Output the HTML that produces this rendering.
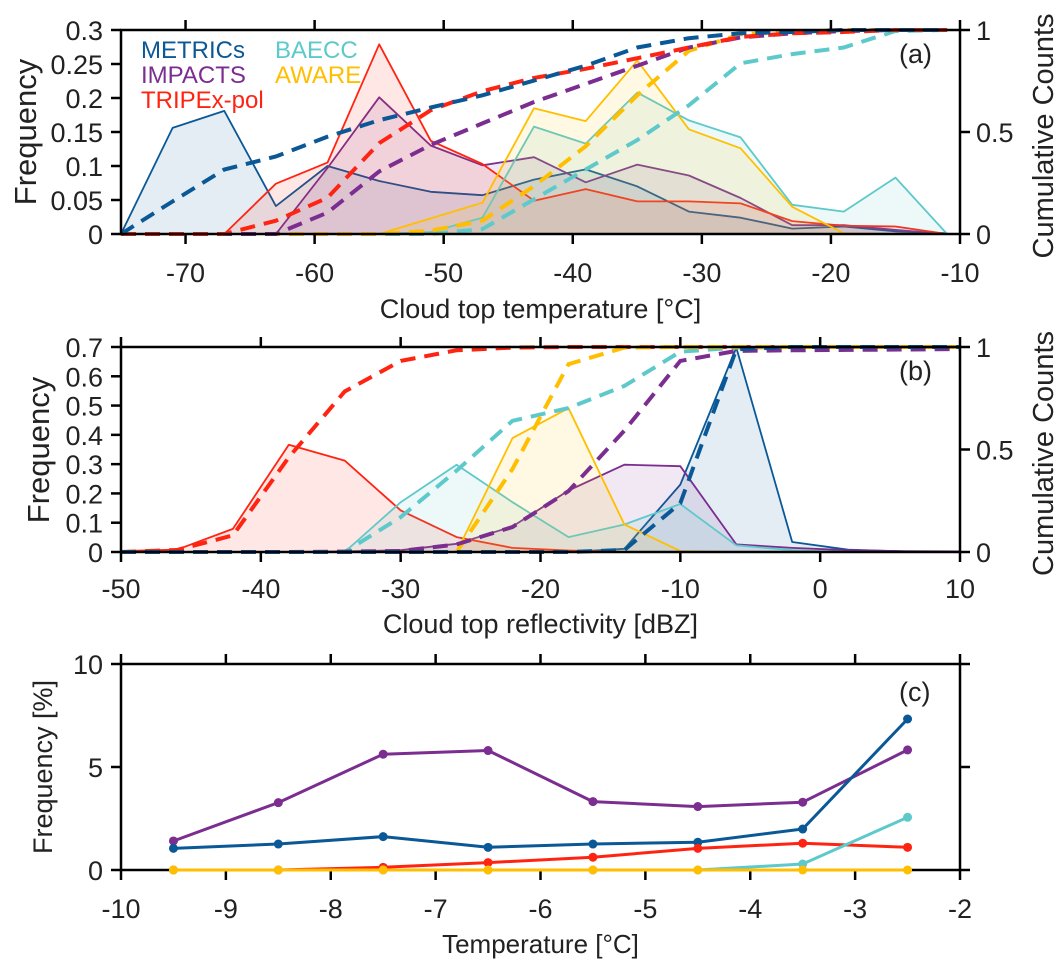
<!DOCTYPE html>
<html><head><meta charset="utf-8"><style>
html,body{margin:0;padding:0;background:#fff;}
svg{display:block;font-family:"Liberation Sans",Arial,sans-serif;}
</style></head><body>
<svg id="fig" width="1063" height="970" viewBox="0 0 1063 970" xmlns="http://www.w3.org/2000/svg"></svg>
<script>
// ---------- data ----------
const seriesNames = ["METRICs","IMPACTS","TRIPEx-pol","BAECC","AWARE"];
const seriesColors = ["#0b5896","#7b2d90","#ff2412","#5ec9cb","#ffbf00"];

const aX = [-75,-71,-67,-63,-59,-55,-51,-47,-43,-39,-35,-31,-27,-23,-19,-15,-11];
const aFreqMETRICs = [0,0.156,0.181,0.041,0.1,0.078,0.062,0.057,0.08,0.095,0.070,0.033,0.024,0.008,0.011,0.004,0.001];
const aFreqIMPACTS = [0,0,0,0,0.097,0.201,0.130,0.101,0.113,0.076,0.102,0.086,0.053,0.013,0.013,0.006,0];
const aFreqTRIPEx = [0,0,0,0.074,0.105,0.279,0.137,0.103,0.049,0.066,0.048,0.048,0.045,0.019,0.012,0.011,0];
const aFreqBAECC = [0,0,0,0,0,0,0.003,0.024,0.158,0.133,0.208,0.167,0.142,0.043,0.033,0.083,0];
const aFreqAWARE = [0,0,0,0,0,0,0.023,0.046,0.185,0.166,0.255,0.154,0.126,0.040,0.001,0,0];
const aCumMETRICs = [0,0.16,0.316,0.38,0.477,0.558,0.62,0.68,0.752,0.825,0.914,0.96,0.984,0.99,1,1,1];
const aCumIMPACTS = [0,0,0,0,0.105,0.307,0.437,0.542,0.647,0.736,0.825,0.914,0.963,0.984,0.995,1,1];
const aCumTRIPEx = [0,0,0,0.065,0.178,0.445,0.607,0.70,0.765,0.81,0.862,0.914,0.966,0.984,0.99,1,1];
const aCumBAECC = [0,0,0,0,0,0,0,0.024,0.17,0.316,0.461,0.631,0.837,0.882,0.914,0.995,1];
const aCumAWARE = [0,0,0,0,0,0,0.016,0.065,0.235,0.43,0.68,0.898,0.979,0.99,1,1,1];
const aXTicks = [-70,-60,-50,-40,-30,-20,-10];
const aYTicks = [0,0.05,0.1,0.15,0.2,0.25,0.3];
const aYTickLabels = ["0","0.05","0.1","0.15","0.2","0.25","0.3"];

const bX = [-50,-46,-42,-38,-34,-30,-26,-22,-18,-14,-10,-6,-2,2,6,10];
const bFreqMETRICs = [0,0,0,0,0,0,0,0,0,0.011,0.23,0.698,0.034,0.008,0.002,0];
const bFreqIMPACTS = [0,0,0,0,0.002,0.006,0.028,0.087,0.21,0.298,0.293,0.026,0.014,0.006,0.003,0.002];
const bFreqTRIPEx = [0.003,0.008,0.079,0.366,0.312,0.142,0.051,0.014,0.005,0,0,0,0,0,0,0];
const bFreqBAECC = [0,0,0,0,0,0.17,0.298,0.17,0.051,0.094,0.164,0.023,0.006,0,0,0];
const bFreqAWARE = [0,0,0,0,0,0,0,0.389,0.491,0.094,0.003,0,0,0,0,0];
const bCumMETRICs = [0,0,0,0,0,0,0,0,0,0.01,0.238,0.989,1,1,1,1];
const bCumIMPACTS = [0,0,0,0,0.002,0.005,0.037,0.122,0.297,0.592,0.932,0.981,0.984,0.986,0.988,0.99];
const bCumTRIPEx = [0,0.01,0.081,0.462,0.783,0.932,0.984,0.997,1,1,1,1,1,1,1,1];
const bCumBAECC = [0,0,0,0,0,0.17,0.397,0.64,0.702,0.81,0.977,0.997,1,1,1,1];
const bCumAWARE = [0,0,0,0,0,0,0,0.405,0.916,0.997,1,1,1,1,1,1];
const bXTicks = [-50,-40,-30,-20,-10,0,10];
const bYTicks = [0,0.1,0.2,0.3,0.4,0.5,0.6,0.7];

const cX = [-9.5,-8.5,-7.5,-6.5,-5.5,-4.5,-3.5,-2.5];
const cMETRICs = [1.05,1.26,1.62,1.1,1.26,1.35,1.99,7.33];
const cIMPACTS = [1.41,3.27,5.62,5.8,3.32,3.08,3.29,5.83];
const cTRIPEx = [0,0,0.13,0.36,0.62,1.05,1.3,1.1];
const cBAECC = [0,0,0,0,0,0,0.29,2.56];
const cAWARE = [0,0,0,0,0,0,0,0];
const cXTicks = [-10,-9,-8,-7,-6,-5,-4,-3,-2];
const cYTicks = [0,5,10];
const rightTicks = [0,0.5,1];
const rightTickLabels = ["0","0.5","1"];

// ---------- helpers ----------
const NS = "http://www.w3.org/2000/svg";
const svg = document.getElementById("fig");
function mk(tag, attrs, parent){
  const e = document.createElementNS(NS, tag);
  for (const k in attrs) e.setAttribute(k, attrs[k]);
  (parent||svg).appendChild(e);
  return e;
}
function scale(d0,d1,r0,r1){ return v => r0 + (v-d0)/(d1-d0)*(r1-r0); }
const L = 121, R = 960;
const TF = 27;

function axesFrame(g, xs, ys, top, bot, xTicks, xLabels, yTicks, yLabels, opts){
  const ax = mk("g", {}, g);
  
  
  xTicks.forEach((t,i)=>{
    const x = xs(t);
    mk("line",{x1:x,x2:x,y1:bot,y2:bot+10,stroke:"#000","stroke-width":2.5},ax);
    mk("line",{x1:x,x2:x,y1:top,y2:top-10,stroke:"#000","stroke-width":2.5},ax);
    const tx = mk("text",{x:x,y:opts.xLabY,"text-anchor":"middle","font-size":TF,fill:"#222"},ax);
    tx.textContent = xLabels[i];
    
    
  });
  yTicks.forEach((t,i)=>{
    const y = ys(t);
    mk("line",{x1:L-10,x2:L,y1:y,y2:y,stroke:"#000","stroke-width":2.5},ax);
    if (opts.rightTicksSame) mk("line",{x1:R,x2:R+10,y1:y,y2:y,stroke:"#000","stroke-width":2.5},ax);
    const tx = mk("text",{x:103,y:y+10,"text-anchor":"end","font-size":TF,fill:"#222"},ax);
    tx.textContent = yLabels[i];
    
    
  });
  mk("rect",{x:L,y:top,width:R-L,height:bot-top,fill:"none",stroke:"#000","stroke-width":2.5},ax);
}

function rightAxis(g, top, bot, name){
  const ry = scale(0,1,bot,top);
  rightTicks.forEach((t,i)=>{
    const y = ry(t);
    mk("line",{x1:R,x2:R+10,y1:y,y2:y,stroke:"#000","stroke-width":2.5},g);
    const tx = mk("text",{x:976,y:y+10,"font-size":TF,fill:"#222"},g);
    tx.textContent = rightTickLabels[i];
    
    
  });
  const cy = (top+bot)/2 + 4;
  const t = mk("text",{x:1053,y:cy,"font-size":29,fill:"#222","text-anchor":"middle",transform:`rotate(-90 1053 ${cy})`},g);
  t.textContent = "Cumulative Counts";
  
  
  return ry;
}

function freqSeries(g, X, Y, xs, ys, color, name){
  const pts = X.map((x,i)=>xs(x).toFixed(1)+","+ys(Y[i]).toFixed(1));
  const area = mk("polygon",{points: xs(X[0])+","+ys(0)+" "+pts.join(" ")+" "+xs(X[X.length-1])+","+ys(0), fill:color,"fill-opacity":0.11,stroke:"none"},g);
  
  
  const ln = mk("polyline",{points:pts.join(" "),fill:"none",stroke:color,"stroke-width":1.8,"stroke-linejoin":"round"},g);
  
  
}
function cumSeries(g, X, Y, xs, ys, color, name){
  const pts = X.map((x,i)=>xs(x).toFixed(1)+","+ys(Y[i]).toFixed(1));
  const ln = mk("polyline",{points:pts.join(" "),fill:"none",stroke:color,"stroke-width":4,"stroke-dasharray":"15 9"},g);
  
  
}
function text(g, x, y, s, size, attrs, name){
  const t = mk("text", Object.assign({x:x,y:y,"font-size":size,fill:"#222"}, attrs||{}), g);
  t.textContent = s;
  
  
  return t;
}

// ---------- panel a ----------
(function(){
  const g = mk("g",{});
  
  
  const top = 30, bot = 234;
  const xs = scale(-75,-10,L,R), ys = scale(0,0.3,bot,top);
  const freqs = [aFreqMETRICs,aFreqIMPACTS,aFreqTRIPEx,aFreqBAECC,aFreqAWARE];
  const cums = [aCumMETRICs,aCumIMPACTS,aCumTRIPEx,aCumBAECC,aCumAWARE];
  freqs.forEach((f,i)=>freqSeries(g,aX,f,xs,ys,seriesColors[i],"a-"+seriesNames[i].toLowerCase()));
  const ry = scale(0,1,bot,top);
  [3,4,1,2,0].forEach(i=>cumSeries(g,aX,cums[i],xs,ry,seriesColors[i],"a-"+seriesNames[i].toLowerCase()));
  axesFrame(g,xs,ys,top,bot,aXTicks,aXTicks.map(String),aYTicks,aYTickLabels,{name:"panel-a",xLabY:282});
  rightAxis(g,top,bot,"panel-a");
  text(g,(L+R)/2,318,"Cloud top temperature [°C]",27,{"text-anchor":"middle"},"a-x-axis-title");
  text(g,36,132,"Frequency",31,{"text-anchor":"middle",transform:"rotate(-90 36 132)"},"a-y-axis-title");
  text(g,899,63,"(a)",27,{},"panel-a-label");
  const lg = mk("g",{},g);
  
  
  const lpos = [[141,58],[141,83],[141,108],[275,58],[275,83]];
  seriesNames.forEach((n,i)=>text(lg,lpos[i][0],lpos[i][1],n,24,{fill:seriesColors[i]},"legend-entry-"+n.toLowerCase()));
})();

// ---------- panel b ----------
(function(){
  const g = mk("g",{});
  
  
  const top = 347, bot = 552;
  const xs = scale(-50,10,L,R), ys = scale(0,0.7,bot,top);
  const freqs = [bFreqMETRICs,bFreqIMPACTS,bFreqTRIPEx,bFreqBAECC,bFreqAWARE];
  const cums = [bCumMETRICs,bCumIMPACTS,bCumTRIPEx,bCumBAECC,bCumAWARE];
  freqs.forEach((f,i)=>freqSeries(g,bX,f,xs,ys,seriesColors[i],"b-"+seriesNames[i].toLowerCase()));
  const ry = scale(0,1,bot,top);
  [2,3,4,1,0].forEach(i=>cumSeries(g,bX,cums[i],xs,ry,seriesColors[i],"b-"+seriesNames[i].toLowerCase()));
  axesFrame(g,xs,ys,top,bot,bXTicks,bXTicks.map(String),bYTicks,bYTicks.map(v=>v===0?"0":v.toFixed(1)),{name:"panel-b",xLabY:598});
  rightAxis(g,top,bot,"panel-b");
  text(g,(L+R)/2,633,"Cloud top reflectivity [dBZ]",27,{"text-anchor":"middle"},"b-x-axis-title");
  text(g,49,450,"Frequency",31,{"text-anchor":"middle",transform:"rotate(-90 49 450)"},"b-y-axis-title");
  text(g,899,380,"(b)",27,{},"panel-b-label");
})();

// ---------- panel c ----------
(function(){
  const g = mk("g",{});
  
  
  const top = 664, bot = 870;
  const xs = scale(-10,-2,L,R), ys = scale(0,10,bot,top);
  axesFrame(g,xs,ys,top,bot,cXTicks,cXTicks.map(String),cYTicks,cYTicks.map(String),{name:"panel-c",xLabY:918,rightTicksSame:true});
  const series = [cMETRICs,cIMPACTS,cTRIPEx,cBAECC,cAWARE];
  const order = [1,0,2,3,4];
  order.forEach(i=>{
    const nm = "c-"+seriesNames[i].toLowerCase();
    const pts = cX.map((x,j)=>xs(x).toFixed(1)+","+ys(series[i][j]).toFixed(1));
    const ln = mk("polyline",{points:pts.join(" "),fill:"none",stroke:seriesColors[i],"stroke-width":3,"stroke-linejoin":"round"},g);
    
    
    cX.forEach((x,j)=>{
      const c = mk("circle",{cx:xs(x),cy:ys(series[i][j]),r:4.5,fill:seriesColors[i]},g);
      
      
    });
  });
  text(g,(L+R)/2,953,"Temperature [°C]",26,{"text-anchor":"middle"},"c-x-axis-title");
  text(g,52,767,"Frequency [%]",27,{"text-anchor":"middle",transform:"rotate(-90 52 767)"},"c-y-axis-title");
  text(g,899,701,"(c)",27,{},"panel-c-label");
})();
</script>
</body></html>
